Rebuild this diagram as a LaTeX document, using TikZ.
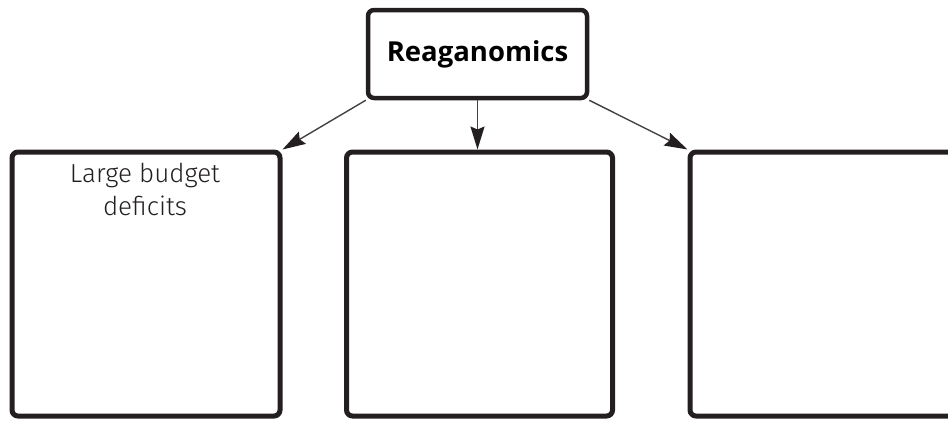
\documentclass[tikz,border=0pt]{standalone}
\usepackage{fontspec}
\setmainfont{Open Sans}
\newfontfamily\handfont{Fira Sans Light}
\usetikzlibrary{arrows.meta,calc}
\definecolor{ink}{HTML}{231F20}
\tikzset{
  box/.style={draw=ink, line width=5pt, rounded corners=6pt, fill=white,
    inner sep=0pt, minimum height=264pt},
  link/.style={draw=ink!85, line width=1.4pt,
    -{Stealth[length=23pt,width=14pt,inset=3pt,color=ink]}},
}
\begin{document}
\begin{tikzpicture}[x=1pt,y=-1pt]
  \useasboundingbox (0,0) rectangle (948,421);
  \clip (0,0) rectangle (948,421);
  % heading box
  \node[box, line width=4.5pt, minimum width=219pt, minimum height=88pt,
        font=\fontsize{27.5}{32}\selectfont\bfseries] (top) at (477.5,54) {Reaganomics};
  % three answer boxes
  \node[box, minimum width=268pt] (left)  at (146,284) {};
  \node[box, minimum width=266pt] (mid)   at (479.5,284) {};
  \node[box, minimum width=268pt] (right) at (824,284) {};
  % handwritten entry
  \node[align=center, anchor=north, inner sep=0pt,
        font=\handfont\fontsize{26}{33}\selectfont, text=ink]
        (entry) at (145,163) {Large budget\\deficits};
  % connectors
  \draw[link] (top.south west) -- (left.north east);
  \draw[link] (top.south) -- (top.south |- mid.north);
  \draw[link] (top.south east) -- (right.north west);
\end{tikzpicture}
\end{document}
